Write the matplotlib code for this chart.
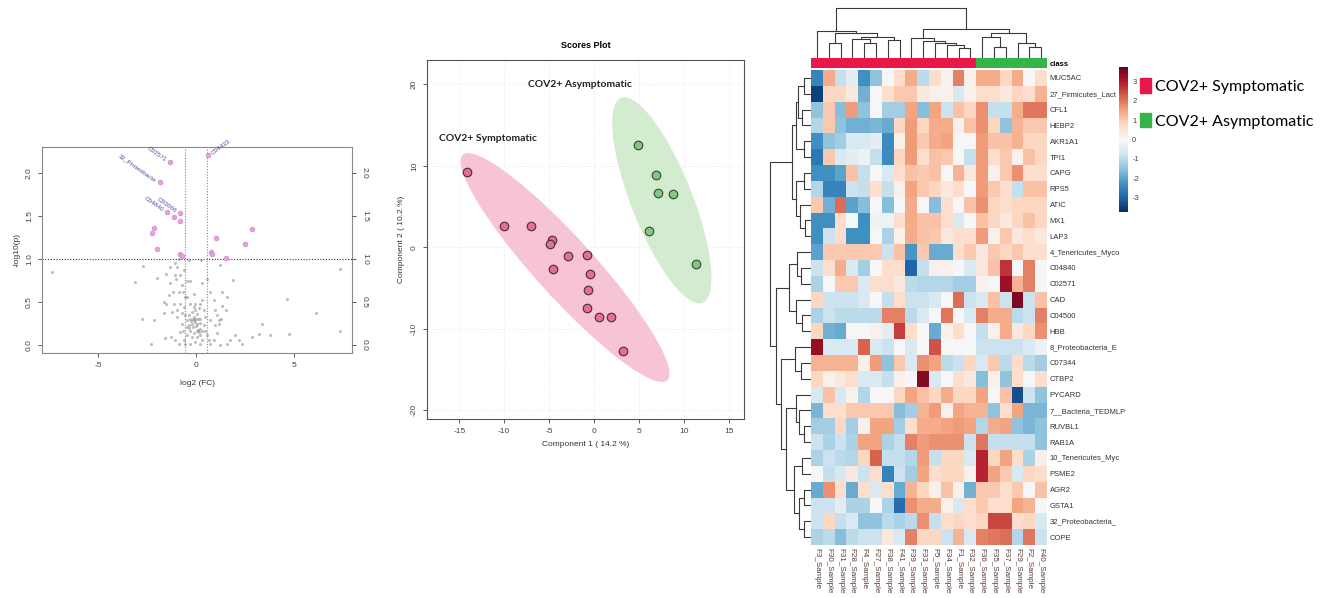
import matplotlib
matplotlib.use('Agg')
import matplotlib.pyplot as plt
import numpy as np
from matplotlib.patches import Ellipse, Patch
from matplotlib.colors import Normalize, ListedColormap
from matplotlib.cm import ScalarMappable

plt.rcParams['font.family'] = ['Liberation Sans', 'DejaVu Sans']
plt.rcParams['axes.unicode_minus'] = False

W, H = 1320, 598

# ---------------- volcano data ----------------
fc_threshold = 1.5
p_threshold = 0.1

grey_fc = [-7.35, -3.10, -2.72, -1.99, -2.76, -2.16, -2.30, -1.51, -1.31, -1.05, -0.97, -1.09,
           -1.02, -1.31, -1.17, -0.88, -0.71, -0.80, -0.29, -0.37, 0.27, 0.31, 0.56, 0.73,
           1.24, 1.33, 1.87, 1.53, 1.28, 1.16, 0.99, 0.90, 0.31, 0.22, -0.03, -0.46, -0.60,
           -1.51, -1.65, -1.22, -0.97, -0.71, -0.54, -0.46, -0.37, -0.29, -0.20, -0.12, -0.15,
           0.05, 0.22, 0.14, 0.05, -0.12, -0.29, -0.46, -0.63, -0.80, -1.05, -1.28, -1.56,
           0.31, 0.48, 0.65, 0.90, 1.07, 1.16, 1.21, 1.58, 1.75, 2.00, 2.18, 2.35, 2.86,
           3.37, 3.20, 3.79, 4.73, 4.64, 6.14, 7.36, 7.36, -0.03, 0.05, -0.20, 0.22, 0.39,
           0.48, -0.54, -0.66, -0.12, -0.46, -0.63, -0.88, -0.12, 0.14, -0.29, -0.80, -0.97,
           0.39, 0.56, -0.03, -0.29, -0.54, -0.88, 0.22, 0.73, 0.99, 0.73, -0.37, 0.02, 0.05,
           -0.20, 0.22, -0.46, -0.66, -0.71, -1.14, -1.39, -1.65, 1.07, 1.33, 1.58,
           -0.05, 0.10, -0.25, 0.00, -0.10, 0.18, -0.35, 0.08, -0.15, 0.30]
grey_p = [0.85, 0.73, 0.92, 0.78, 0.30, 0.29, 0.02, 0.83, 0.91, 0.95, 0.91, 0.81,
          0.77, 0.72, 0.62, 0.62, 0.70, 0.81, 0.75, 0.99, 0.99, 0.72, 0.77, 0.62,
          0.93, 0.62, 0.76, 0.41, 0.31, 0.29, 0.41, 0.52, 0.52, 0.48, 0.48, 0.56, 0.44,
          0.48, 0.37, 0.39, 0.33, 0.25, 0.35, 0.29, 0.23, 0.31, 0.25, 0.29, 0.21,
          0.25, 0.19, 0.15, 0.10, 0.14, 0.17, 0.12, 0.06, 0.15, 0.06, 0.10, 0.08,
          0.06, 0.17, 0.06, 0.06, 0.14, 0.25, 0.00, 0.02, 0.06, 0.12, 0.06, 0.02, 0.10,
          0.25, 0.13, 0.12, 0.13, 0.54, 0.37, 0.17, 0.88, 0.41, 0.36, 0.39, 0.31, 0.41,
          0.33, 0.56, 0.62, 0.60, 0.75, 0.87, 1.00, 0.44, 0.43, 0.48, 0.48, 0.41,
          0.23, 0.12, 0.04, 0.02, 0.02, 0.02, 0.02, 0.02, 0.23, 0.29, 0.35, 0.31, 0.17,
          0.10, 0.12, 0.21, 0.17, 0.37, 0.48, 0.58, 0.50, 0.35, 0.45, 0.56,
          0.27, 0.30, 0.28, 0.22, 0.33, 0.26, 0.20, 0.18, 0.31, 0.16]

sig_fc = [-1.34, 0.60, -1.85, -0.80, -1.48, -1.10, -0.80, -2.13, -2.24, -1.99, -0.80, -0.71,
          2.84, 1.04, 2.48, 0.77, 0.83, 1.51]
sig_p = [2.13, 2.21, 1.89, 1.53, 1.55, 1.49, 1.44, 1.36, 1.30, 1.12, 1.06, 1.04,
         1.35, 1.25, 1.17, 1.08, 1.06, 1.01]
sig_names = ['C02571', 'C04433', '32_Proteobacte', 'C03066', 'C04840'] + [''] * 13

# ---------------- scores plot data ----------------
sym_pc1 = [-14.2, -9.97, -7.0, -4.63, -4.85, -2.89, -0.81, -4.56, -0.41, -0.63, -0.81, 0.52, 1.85, 3.19]
sym_pc2 = [9.3, 2.58, 2.58, 0.94, 0.45, -1.1, -0.94, -2.7, -3.3, -5.3, -7.5, -8.56, -8.56, -12.8]
asym_pc1 = [4.93, 6.93, 7.11, 8.78, 6.15, 11.37]
asym_pc2 = [12.6, 8.85, 6.72, 6.55, 1.97, -2.09]

# ---------------- heatmap data ----------------
samples = ['F3_Sample', 'F30_Sample', 'F31_Sample', 'F28_Sample', 'F4_Sample', 'F27_Sample',
           'F38_Sample', 'F41_Sample', 'F39_Sample', 'F33_Sample', 'F5_Sample', 'F34_Sample',
           'F1_Sample', 'F32_Sample', 'F36_Sample', 'F35_Sample', 'F37_Sample', 'F29_Sample',
           'F2_Sample', 'F40_Sample']
sample_class = ['COV2+ Symptomatic'] * 14 + ['COV2+ Asymptomatic'] * 6
features = ['MUC5AC', '27_Firmicutes_Lact', 'CFL1', 'HEBP2', 'AKR1A1', 'TPI1', 'CAPG', 'RPS5',
            'ATIC', 'MX1', 'LAP3', '4_Tenericutes_Myco', 'C04840', 'C02571', 'CAD', 'C04500',
            'HBB', '8_Proteobacteria_E', 'C07344', 'CTBP2', 'PYCARD', '7__Bacteria_TEDMLP',
            'RUVBL1', 'RAB1A', '10_Tenericutes_Myc', 'PSME2', 'AGR2', 'GSTA1',
            '32_Proteobacteria_', 'COPE']
hm_values = [
    [-2.5, 1.4, -0.9, -0.4, -2.3, -1.5, 0.0, 0.7, 1.4, -1.0, 0.7, 0.2, 1.9, 0.2, 1.4, 1.4, 0.8, 1.4, 0.0, 0.7],
    [-3.5, 0.8, 0.8, 0.4, -1.8, 0.0, 0.7, 1.0, 1.0, 0.4, 0.2, 0.2, -0.6, 0.2, 0.7, 0.7, 0.4, 0.8, 0.7, 1.3],
    [-1.5, 1.0, -1.6, 1.6, -1.5, 0.0, -1.3, -1.3, 1.5, -1.6, 1.5, -0.8, 1.1, 0.8, 1.7, -0.9, -0.9, 1.4, 2.0, 2.0],
    [-1.1, 1.0, -1.5, -1.8, -1.8, -1.7, -1.9, 0.8, 1.6, 0.8, 1.4, 1.4, 0.2, 1.1, 1.7, 0.8, -1.5, 1.3, 1.0, 1.0],
    [-2.3, -1.5, -1.3, -0.6, -0.6, -0.4, -2.4, 0.2, 1.6, 1.0, 1.4, 1.5, 0.0, 0.0, 1.6, 1.1, 1.1, 1.3, 0.8, 0.8],
    [-2.7, 1.0, -0.6, -0.4, -0.2, -0.9, -2.4, 0.8, 1.6, 0.7, 1.1, 1.0, 0.0, -0.9, 1.6, 0.7, 1.0, 0.2, 1.1, 0.8],
    [-2.3, -2.3, -2.0, 1.1, -0.9, 0.0, -0.6, 0.7, 1.1, 1.0, 1.1, 0.0, 1.3, 0.4, 1.6, 0.2, 1.0, 1.7, 0.7, 0.7],
    [-1.1, -2.5, -2.5, -0.8, -0.9, 0.7, -0.9, 0.2, 1.5, 1.0, 0.8, 0.4, 0.7, 0.0, 1.6, 1.0, 0.7, -0.9, 1.1, 1.1],
    [1.0, -1.8, 2.1, -2.0, -1.6, 0.0, -1.6, 0.0, 1.4, 0.0, -1.6, 0.7, 0.0, 1.1, 1.7, 0.8, 0.7, 0.8, 0.8, 0.8],
    [-2.3, -2.3, 0.7, 0.0, -2.3, -0.2, -0.2, 0.7, 1.4, 1.1, 1.1, 0.7, -0.6, 0.0, 1.1, 0.8, 0.4, 0.8, 1.1, 0.8],
    [-2.3, -0.8, 0.7, -2.3, -2.3, 0.0, -1.2, 0.2, 1.4, 1.1, 1.0, 0.4, 0.7, 0.7, 1.6, 0.2, 1.0, 0.4, 0.7, 0.4],
    [-2.0, 1.0, 1.0, 1.0, 1.0, 1.0, -0.8, 1.1, -2.2, 1.0, -1.9, -1.9, 0.7, 1.0, 0.4, 1.0, 0.8, 1.0, 0.7, 0.7],
    [-0.8, 0.7, 1.4, -0.6, -1.3, 0.0, 0.7, 0.7, -3.0, -0.9, 0.2, 0.2, 0.0, -0.6, 0.4, 1.1, 2.7, 0.0, 1.9, 0.0],
    [-1.2, 0.0, 1.0, 1.0, -0.6, 0.7, 0.7, 0.4, -1.0, -1.1, -1.1, -1.1, -1.3, -1.3, 0.2, 0.0, 3.2, 1.3, 1.9, 0.0],
    [0.8, -0.8, -0.8, -0.8, -0.6, 0.0, -0.9, 0.7, -0.8, -0.8, -0.6, 0.0, 2.1, -0.8, -0.6, 1.1, -0.8, 3.5, -0.8, 1.1],
    [-1.2, -0.8, -1.0, -1.0, -1.0, -1.0, 1.9, 1.9, -1.0, -0.6, 0.0, 2.0, 0.0, -0.6, 1.9, 1.4, 1.4, -1.0, -0.8, 1.9],
    [0.8, -1.8, -1.9, 0.0, 0.0, 0.2, -0.4, 2.6, 0.7, 0.0, -1.9, 0.2, 0.7, 0.0, -0.9, 0.2, 1.4, 0.4, 0.8, 1.7],
    [3.3, -0.6, -0.6, -0.6, 2.2, -0.6, -0.8, 0.0, -0.6, 0.0, 2.4, 0.0, 0.0, 0.0, -0.8, -0.8, -0.8, -0.8, -0.6, -0.2],
    [1.3, 1.3, 1.3, 1.3, 0.2, 1.6, -1.5, 1.0, -0.6, 1.7, 1.5, -1.0, -0.8, 0.8, -0.6, 1.0, -1.0, 0.7, -1.0, -1.3],
    [0.8, 0.2, 0.4, 0.7, -0.6, -0.6, -0.9, 0.2, 0.0, 3.4, -0.6, 0.0, 0.7, 0.4, -1.6, 0.2, -1.5, 0.7, 0.0, 0.7],
    [-0.6, 1.1, -0.6, 0.2, -1.1, 0.0, 0.0, 0.8, 1.5, 1.1, 0.8, 1.4, 0.8, 0.8, 1.5, 0.0, 1.1, -3.3, -0.8, -1.5],
    [-1.7, 0.7, 0.7, 1.0, 1.0, 1.0, 1.0, -1.6, -1.3, 1.3, 1.6, 0.2, 1.5, 1.3, 1.3, -1.5, 0.7, 1.5, -1.7, -1.7],
    [-1.3, -1.3, 0.8, -1.3, 0.2, 1.5, 1.5, -1.3, 0.7, 1.4, 1.4, 1.5, 1.6, 1.5, -1.1, 1.4, 1.5, -1.5, -1.7, -1.5],
    [-0.8, -1.2, -0.8, -1.2, 1.5, 1.5, -1.2, -0.9, 1.9, 1.6, 1.7, 1.7, 1.7, -0.8, 2.0, -0.9, -0.9, -0.9, -0.9, -1.5],
    [-1.2, -0.8, -1.0, -1.1, 0.8, 2.2, -0.9, -0.9, -1.1, 1.6, -0.9, 0.8, 0.8, -0.6, 2.9, 0.8, 1.5, 0.7, -1.2, 0.2],
    [0.0, -0.9, -0.6, 0.4, -0.8, 0.7, -2.5, -0.8, -1.3, 1.5, 0.7, 0.8, 0.8, 0.2, 2.9, 1.5, 1.0, -0.6, 0.8, 0.7],
    [-1.9, 1.7, 0.7, -1.9, 0.7, -0.6, 0.7, -1.9, 1.3, 0.8, 0.2, 1.1, 0.2, -1.8, 1.0, 1.0, 0.7, 1.0, 0.0, 1.1],
    [-0.8, -0.8, -0.4, -1.2, -1.2, 0.0, -1.2, -2.9, 1.7, 1.4, 1.4, 0.2, -0.6, 0.7, 1.0, 0.7, 0.7, 1.5, 1.3, 0.0],
    [-0.8, 0.8, -0.9, -0.6, -1.5, -1.5, -1.0, -1.2, -1.0, 1.7, -0.9, 0.7, 0.8, 0.7, 0.8, 2.5, 2.5, 0.7, 0.8, -0.6],
    [-1.2, -1.0, -1.6, -1.0, -0.8, -0.8, 0.4, -0.6, 1.9, 0.8, 0.8, -0.8, 1.3, -0.6, 1.9, 2.0, 2.1, -1.1, 2.0, -0.8],
]

# clustering trees (left, right, merge height), leaves are indices in display order
col_tree = ((0, ((1, 2, 0.29), ((3, (4, 5, 0.28), 0.36), (6, 7, 0.34), 0.40), 0.48), 0.54),
            ((8, (9, (10, (11, (12, 13, 0.19), 0.24), 0.29), 0.33), 0.38),
             ((14, (15, 16, 0.20), 0.41), (17, (18, 19, 0.20), 0.29), 0.50), 0.57),
            1.0)
row_tree = (((((0, 1, 0.16), (2, 3, 0.20), 0.30), (4, 5, 0.16), 0.36),
             ((6, 7, 0.14), (8, (9, 10, 0.12), 0.24), 0.34), 0.46),
            (((11, (12, 13, 0.22), 0.32), (14, (15, 16, 0.20), 0.36), 0.52),
             ((17, (18, 19, 0.22), 0.38),
              ((20, (21, (22, 23, 0.16), 0.28), 0.36),
               ((24, 25, 0.20), ((26, 27, 0.16), (28, 29, 0.16), 0.28), 0.40), 0.60), 0.72), 0.84),
            1.0)

class_colors = {'COV2+ Symptomatic': '#e8184b', 'COV2+ Asymptomatic': '#35b44a'}


def box(left, top, right, bottom):
    '''pixel box of the reference -> figure fraction rect'''
    return [left / W, 1 - bottom / H, (right - left) / W, (bottom - top) / H]


def draw_tree(ax, node, top=True):
    if isinstance(node, int):
        return node + 0.5, 0.0
    a, b, h = node
    pa, ha = draw_tree(ax, a, top)
    pb, hb = draw_tree(ax, b, top)
    pos = [pa, pa, pb, pb]
    hts = [ha, h, h, hb]
    if top:
        ax.plot(pos, hts, color='#3a3a3a', lw=0.8, clip_on=False)
    else:
        ax.plot(hts, pos, color='#3a3a3a', lw=0.8, clip_on=False)
    return (pa + pb) / 2, h


def conf_ellipse(ax, x, y, color):
    x, y = np.asarray(x), np.asarray(y)
    vals, vecs = np.linalg.eigh(np.cov(x, y))
    order = vals.argsort()[::-1]
    vals, vecs = vals[order], vecs[:, order]
    angle = np.degrees(np.arctan2(vecs[1, 0], vecs[0, 0]))
    k = 2.4477
    ax.add_patch(Ellipse((x.mean(), y.mean()), 2 * k * np.sqrt(vals[0]), 2 * k * np.sqrt(vals[1]),
                         angle=angle, facecolor=color, edgecolor='none', zorder=1))


fig = plt.figure(figsize=(W / 100, H / 100), dpi=100, facecolor='white')

# ---------------- volcano ----------------
ax = fig.add_axes(box(42, 147, 352, 353))
ax.scatter(grey_fc, grey_p, s=5, color='#808080', alpha=0.5, linewidths=0, zorder=2)
ax.scatter(sig_fc, sig_p, s=12, color='#e6a0da', edgecolors='#d77fcb', linewidths=0.4, zorder=3)
ax.axhline(-np.log10(p_threshold), color='#333333', ls=(0, (1, 1.5)), lw=0.8, zorder=1)
for v in (-np.log2(fc_threshold), np.log2(fc_threshold)):
    ax.axvline(v, color='#888888', ls=(0, (1, 1.5)), lw=0.8, zorder=1)
for x, y, name in zip(sig_fc, sig_p, sig_names):
    if not name:
        continue
    if x > 0:
        ax.annotate(name, (x, y), xytext=(3, 1), textcoords='offset points', rotation=36,
                    rotation_mode='anchor', ha='left', va='center', fontsize=4.6, color='#4b4ba3')
    else:
        ax.annotate(name, (x, y), xytext=(-3, 1), textcoords='offset points', rotation=-35,
                    rotation_mode='anchor', ha='right', va='center', fontsize=4.6, color='#4b4ba3')
ax.set_xlim(-7.86, 7.96)
ax.set_ylim(-0.09, 2.30)
ax.set_xticks([-5, 0, 5])
ax.set_yticks([0.0, 0.5, 1.0, 1.5, 2.0])
ax.tick_params(labelsize=6, colors='#444444', length=3, width=0.6)
for lab in ax.get_yticklabels():
    lab.set_rotation(90)
    lab.set_va('center')
ax.set_xlabel('log2 (FC)', fontsize=6, color='#333333', labelpad=8)
ax.set_ylabel('-log10(p)', fontsize=6, color='#333333')
for s in ax.spines.values():
    s.set_color('#888888')
    s.set_linewidth(0.8)
axr = ax.twinx()
axr.set_ylim(ax.get_ylim())
axr.set_yticks([0.0, 0.5, 1.0, 1.5, 2.0])
axr.tick_params(labelsize=6, colors='#444444', length=3, width=0.6)
for lab in axr.get_yticklabels():
    lab.set_rotation(270)
    lab.set_va('center')
for s in axr.spines.values():
    s.set_visible(False)

# ---------------- scores plot ----------------
ax2 = fig.add_axes(box(427, 60, 744, 419))
conf_ellipse(ax2, sym_pc1, sym_pc2, '#f7c4d5')
conf_ellipse(ax2, asym_pc1, asym_pc2, '#d3ebcf')
ax2.scatter(sym_pc1, sym_pc2, s=38, color='#e36f96', edgecolors='#4a2a33', linewidths=0.8, zorder=3)
ax2.scatter(asym_pc1, asym_pc2, s=38, color='#84c784', edgecolors='#2f4a2f', linewidths=0.8, zorder=3)
ax2.text(-17.3, 13.1, 'COV2+ Symptomatic', fontsize=7.5, fontweight='bold', family='Lato', color='#222222')
ax2.text(-7.3, 19.7, 'COV2+ Asymptomatic', fontsize=7.5, fontweight='bold', family='Lato', color='#222222')
ax2.set_xlim(-18.6, 16.7)
ax2.set_ylim(-21.1, 23.0)
ax2.set_xticks(range(-15, 16, 5))
ax2.set_yticks(range(-20, 21, 10))
ax2.grid(True, color='#e6e6e6', lw=0.6, ls=':')
ax2.set_axisbelow(True)
ax2.tick_params(labelsize=6, colors='#444444', length=3, width=0.6)
for lab in ax2.get_yticklabels():
    lab.set_rotation(90)
    lab.set_va('center')
ax2.set_xlabel('Component 1 ( 14.2 %)', fontsize=6, color='#333333')
ax2.set_ylabel('Component 2 ( 10.2 %)', fontsize=6, color='#333333')
ax2.set_title('Scores Plot', fontsize=6.5, fontweight='bold', pad=9)
for s in ax2.spines.values():
    s.set_color('#555555')
    s.set_linewidth(0.8)

# ---------------- heatmap ----------------
norm = Normalize(-3.75, 3.75)
ax_hm = fig.add_axes(box(811, 70, 1047, 545))
ax_hm.pcolormesh(np.array(hm_values), cmap='RdBu_r', norm=norm)
ax_hm.set_xlim(0, len(samples))
ax_hm.set_ylim(len(features), 0)
ax_hm.set_xticks(np.arange(len(samples)) + 0.5)
ax_hm.set_xticklabels(samples, rotation=270, fontsize=5.8, color='#5a3a3a')
ax_hm.yaxis.tick_right()
ax_hm.set_yticks(np.arange(len(features)) + 0.5)
ax_hm.set_yticklabels(features, fontsize=5.5, color='#333333')
ax_hm.tick_params(length=0, pad=2)
for s in ax_hm.spines.values():
    s.set_visible(False)

ax_cls = fig.add_axes(box(811, 58, 1047, 68))
classes = list(class_colors)
codes = np.array([[classes.index(c) for c in sample_class]])
ax_cls.pcolormesh(codes, cmap=ListedColormap([class_colors[c] for c in classes]), vmin=0, vmax=1)
ax_cls.set_xlim(0, len(samples))
ax_cls.set_xticks([])
ax_cls.yaxis.tick_right()
ax_cls.set_yticks([0.5])
ax_cls.set_yticklabels(['class'], fontsize=5.5, fontweight='bold')
ax_cls.tick_params(length=0, pad=2)
for s in ax_cls.spines.values():
    s.set_visible(False)

ax_cd = fig.add_axes(box(811, 8, 1047, 57))
draw_tree(ax_cd, col_tree, top=True)
ax_cd.set_xlim(0, len(samples))
ax_cd.set_ylim(0, 1.0)
ax_cd.axis('off')

ax_rd = fig.add_axes(box(770, 70, 810, 545))
draw_tree(ax_rd, row_tree, top=False)
ax_rd.set_xlim(1.0, 0)
ax_rd.set_ylim(len(features), 0)
ax_rd.axis('off')

cax = fig.add_axes(box(1119, 67, 1128, 212))
cb = fig.colorbar(ScalarMappable(norm=norm, cmap='RdBu_r'), cax=cax, ticks=range(-3, 4))
cb.outline.set_visible(False)
cax.tick_params(labelsize=5.5, length=0, pad=3, colors='#444444')

fig.legend(handles=[Patch(color=class_colors[c]) for c in classes], labels=classes,
           loc='upper left', bbox_to_anchor=(1126 / W, 1 - 64 / H), frameon=False,
           handlelength=0.65, handleheight=1.0, handletextpad=0.25, labelspacing=1.2,
           prop={'family': 'Lato', 'size': 11.5})

fig.savefig('out.png', dpi=100, facecolor='white')
